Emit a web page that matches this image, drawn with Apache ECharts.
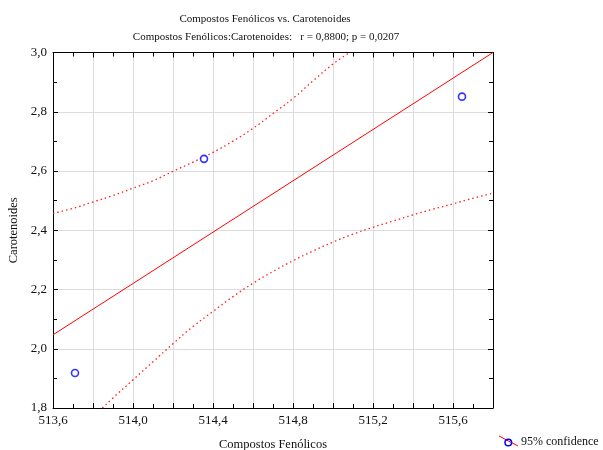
<!DOCTYPE html>
<html>
<head>
<meta charset="utf-8">
<script src="https://cdn.jsdelivr.net/npm/echarts@6/dist/echarts.min.js"></script>
<style>
  html, body { margin: 0; padding: 0; background: #fff; }
  #chart { width: 603px; height: 450px; }
</style>
</head>
<body>
<div id="chart"></div>
<script>
// pontos observados
var pointsX = [513.71, 514.355, 515.645];
var pointsY = [1.918, 2.641, 2.851];

// reta de regressão
var fitX = [513.6, 515.8];
var fitY = [2.047, 3.0];

// limites de confiança 95%
var upperX = [513.6, 513.7, 513.8, 513.9, 514.0, 514.1, 514.2, 514.3, 514.4, 514.5,
              514.6, 514.7, 514.8, 514.9, 515.0, 515.083];
var upperY = [2.457, 2.474, 2.4955, 2.517, 2.542, 2.567, 2.599, 2.630, 2.663, 2.701,
              2.744, 2.794, 2.845, 2.904, 2.961, 3.0];
var lowerX = [513.847, 513.9, 514.0, 514.1, 514.2, 514.3, 514.4, 514.5, 514.6, 514.7,
              514.8, 514.9, 515.0, 515.1, 515.2, 515.3, 515.4, 515.5, 515.6, 515.7, 515.8];
var lowerY = [1.8, 1.834, 1.895, 1.956, 2.017, 2.075, 2.126, 2.176, 2.221, 2.261,
              2.297, 2.330, 2.360, 2.387, 2.410, 2.431, 2.452, 2.471, 2.489, 2.508, 2.525];

var xMin = 513.6, xMax = 515.8, xStep = 0.2, xLabelStep = 0.4;
var yMin = 1.8, yMax = 3.0, yStep = 0.2;

function pairs(xs, ys) {
  return xs.map(function (x, i) { return [x, ys[i]]; });
}
function comma(v, d) {
  return v.toFixed(d).replace(".", ",");
}

var font = "'Liberation Serif', 'Times New Roman', serif";
var ink = "#111";

var myChart = echarts.init(document.getElementById("chart"));

var tickStyle = { show: true, inside: true, length: 5, lineStyle: { color: "#000", width: 1 } };
var minorStyle = { show: true, splitNumber: 2, length: 4, lineStyle: { color: "#000", width: 1 } };

var option = {
  animation: false,
  grid: { left: 53, right: 110, top: 52.5, bottom: 42, outerBoundsMode: "none", containLabel: false },
  xAxis: [
    {
      type: "value", min: xMin, max: xMax, interval: xStep,
      name: "Compostos Fenólicos", nameLocation: "middle", nameGap: 30,
      nameTextStyle: { fontFamily: font, fontSize: 12.5, color: ink },
      axisLine: { show: true, lineStyle: { color: "#000", width: 1 } },
      axisTick: tickStyle,
      minorTick: minorStyle,
      splitLine: { show: true, lineStyle: { color: "#dcdcdc", width: 1 } },
      axisLabel: {
        fontFamily: font, fontSize: 13, color: ink, margin: 6,
        formatter: function (v) {
          var k = (v - xMin) / xLabelStep;
          return Math.abs(k - Math.round(k)) < 1e-6 ? comma(v, 1) : "";
        }
      }
    },
    {
      type: "value", position: "top", min: xMin, max: xMax, interval: xStep,
      axisLine: { show: true, lineStyle: { color: "#000", width: 1 } },
      axisTick: tickStyle, minorTick: minorStyle,
      axisLabel: { show: false }, splitLine: { show: false }
    }
  ],
  yAxis: [
    {
      type: "value", min: yMin, max: yMax, interval: yStep,
      name: "Carotenoides", nameLocation: "middle", nameGap: 31,
      nameTextStyle: { fontFamily: font, fontSize: 12.5, color: ink },
      axisLine: { show: true, lineStyle: { color: "#000", width: 1 } },
      axisTick: tickStyle,
      minorTick: minorStyle,
      splitLine: { show: true, lineStyle: { color: "#dcdcdc", width: 1 } },
      axisLabel: {
        fontFamily: font, fontSize: 13, color: ink, margin: 6,
        formatter: function (v) { return comma(v, 1); }
      }
    },
    {
      type: "value", position: "right", min: yMin, max: yMax, interval: yStep,
      axisLine: { show: true, lineStyle: { color: "#000", width: 1 } },
      axisTick: tickStyle, minorTick: minorStyle,
      axisLabel: { show: false }, splitLine: { show: false }
    }
  ],
  series: [
    {
      type: "line", data: pairs(fitX, fitY), symbol: "none",
      lineStyle: { color: "#ff0000", width: 1 }
    },
    {
      type: "line", data: pairs(upperX, upperY), symbol: "none", smooth: true,
      lineStyle: { color: "#ff2020", width: 1.3, type: [1.5, 3] }
    },
    {
      type: "line", data: pairs(lowerX, lowerY), symbol: "none", smooth: true,
      lineStyle: { color: "#ff2020", width: 1.3, type: [1.5, 3] }
    },
    {
      type: "scatter", data: pairs(pointsX, pointsY), symbol: "circle", symbolSize: 7,
      itemStyle: { color: "#fff", borderColor: "#0000ff", borderWidth: 1.6 },
      z: 5
    }
  ],
  graphic: [
    {
      type: "text", x: 265, y: 19,
      style: { text: "Compostos Fenólicos vs. Carotenoides", fontFamily: font, fontSize: 11,
        fill: ink, textAlign: "center", textVerticalAlign: "middle" }
    },
    {
      type: "text", x: 266, y: 37,
      style: { text: "Compostos Fenólicos:Carotenoides:   r = 0,8800; p = 0,0207", fontFamily: font,
        fontSize: 11, fill: ink, textAlign: "center", textVerticalAlign: "middle" }
    },
    {
      type: "line", shape: { x1: 499, y1: 436, x2: 518, y2: 446 },
      style: { stroke: "#ff0000", lineWidth: 1 }
    },
    {
      type: "circle", shape: { cx: 508.3, cy: 442.5, r: 3.3 },
      style: { fill: "none", stroke: "#0000ff", lineWidth: 1.5 }
    },
    {
      type: "text", x: 521, y: 442,
      style: { text: "95% confidence", fontFamily: font, fontSize: 12, fill: ink,
        textAlign: "left", textVerticalAlign: "middle" }
    }
  ]
};

myChart.setOption(option);
</script>
</body>
</html>
